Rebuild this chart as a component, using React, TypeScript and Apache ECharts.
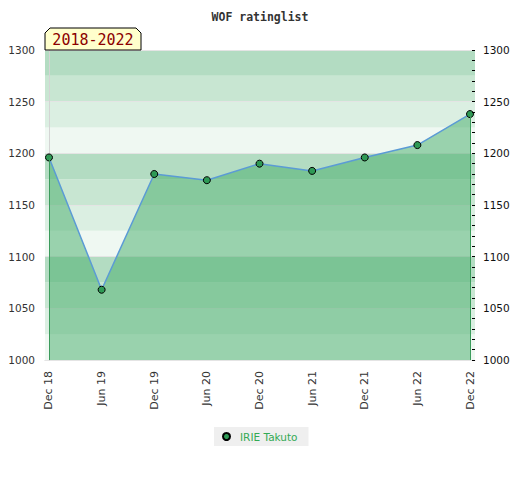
import React, { useEffect, useRef } from "react";
import * as echarts from "echarts";

const categories = ["Dec 18", "Jun 19", "Dec 19", "Jun 20", "Dec 20", "Jun 21", "Dec 21", "Jun 22", "Dec 22"];
const ratings = [1196, 1068, 1180, 1174, 1190, 1183, 1196, 1208, 1238];
const seriesName = "IRIE Takuto";
const titleText = "WOF ratinglist";
const tabText = "2018-2022";
const bandEdges = [1000, 1025, 1050, 1075, 1100, 1125, 1150, 1175, 1200, 1225, 1250, 1275, 1300];
const bandColors = ["#eff8f2", "#dbefe2", "#c8e6d2", "#b3dcc2"];

export default function App() {
  const ref = useRef<HTMLDivElement>(null);
  useEffect(() => {
    document.body.style.margin = "0";
    const chart = echarts.init(ref.current!, null, { renderer: "svg" });
    const data = ratings.map((v, i) => [i, v]);
    const last = ratings.length - 1;
    const bands = bandEdges.slice(0, -1).map((b, i) => [
      { yAxis: b, itemStyle: { color: bandColors[i % 4], opacity: 1 } },
      { yAxis: bandEdges[i + 1] },
    ]);
    const plain = (v: number) => String(v);
    chart.setOption({
      animation: false,
      title: {
        text: titleText,
        left: "center",
        top: 6,
        textStyle: { fontFamily: "DejaVu Sans Mono", fontWeight: "bold", fontSize: 11.5, color: "#333" },
      },
      grid: { left: 45, right: 45, top: 50, bottom: 120 },
      xAxis: {
        type: "value",
        min: -0.076,
        max: 8.095,
        axisLine: { show: true, lineStyle: { color: "#d4d4d4" } },
        axisTick: { show: false },
        splitLine: { show: false },
        axisLabel: {
          customValues: categories.map((_, i) => i),
          rotate: 90,
          margin: 11,
          fontFamily: "DejaVu Sans",
          fontSize: 11,
          color: "#333",
          formatter: (v: number) => categories[Math.round(v)] ?? "",
        },
      },
      yAxis: [
        {
          type: "value",
          min: 1000,
          max: 1300,
          interval: 50,
          position: "left",
          z: 1,
          axisLine: { show: true, lineStyle: { color: "#d4d4d4" } },
          axisTick: { show: false },
          splitLine: { show: true, lineStyle: { color: "#e4e4e4" } },
          axisLabel: { margin: 10, fontFamily: "DejaVu Sans", fontSize: 10.5, color: "#333", formatter: plain },
        },
        {
          type: "value",
          min: 1000,
          max: 1300,
          interval: 50,
          position: "right",
          z: 10,
          axisLine: { show: false },
          axisTick: { show: true, inside: true, length: 3, lineStyle: { color: "#000" } },
          minorTick: { show: true, splitNumber: 5, length: 3, lineStyle: { color: "#000" } },
          splitLine: { show: false },
          axisLabel: { margin: 8, fontFamily: "DejaVu Sans", fontSize: 10.5, color: "#111", formatter: plain },
        },
      ],
      legend: {
        data: [{ name: seriesName, icon: "circle" }],
        left: 214,
        top: 427,
        backgroundColor: "#efefef",
        padding: [4, 11, 4, 8],
        itemWidth: 7,
        itemHeight: 7,
        textStyle: { color: "#33aa55", fontFamily: "DejaVu Sans", fontSize: 10.5, padding: [0, 0, 0, 5] },
      },
      series: [
        {
          name: "bands",
          type: "line",
          z: -1,
          data: data,
          symbol: "none",
          silent: true,
          lineStyle: { opacity: 0 },
          markArea: { silent: true, z: -1, data: bands },
        },
        {
          name: seriesName,
          type: "line",
          z: 3,
          data: data,
          symbol: "circle",
          symbolSize: 7,
          itemStyle: { color: "#2e9a55", borderColor: "#000", borderWidth: 1 },
          lineStyle: { color: "#5b9bd5", width: 1.5 },
          areaStyle: { origin: "start", color: "rgba(67,172,104,0.5)", opacity: 1 },
          markLine: {
            silent: true,
            symbol: "none",
            label: { show: false },
            lineStyle: { color: "#3b9b5b", width: 1, type: "solid" },
            data: [
              [{ coord: [0, 1000] }, { coord: [0, ratings[0]] }],
              [{ coord: [last, 1000] }, { coord: [last, ratings[last]] }],
            ],
          },
        },
      ],
      graphic: [
        {
          type: "polygon",
          z: 100,
          shape: { points: [[45, 50], [45, 33], [50, 28], [136, 28], [141, 33], [141, 50]] },
          style: { fill: "#ffffcc", stroke: "#000", lineWidth: 1 },
        },
        {
          type: "text",
          z: 101,
          x: 93,
          y: 40,
          style: {
            text: tabText,
            fill: "#8b0000",
            font: "15px 'DejaVu Sans Mono'",
            align: "center",
            verticalAlign: "middle",
          },
        },
      ],
    });
    return () => chart.dispose();
  }, []);
  return <div ref={ref} style={{ width: 520, height: 480 }} />;
}
